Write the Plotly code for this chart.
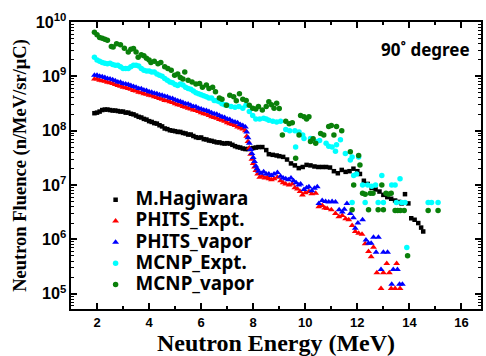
import plotly.graph_objects as go

# ---------------- data ----------------
hag_E = [1.9, 2.0, 2.1, 2.2, 2.3, 2.4, 2.5, 2.6, 2.7, 2.8, 2.9, 3.0, 3.1, 3.2, 3.3, 3.4, 3.5, 3.6, 3.7, 3.8,
         3.9, 4.0, 4.1, 4.2, 4.3, 4.4, 4.5, 4.6, 4.7, 4.8, 4.9, 5.0, 5.1, 5.2, 5.3, 5.4, 5.5, 5.6, 5.7, 5.8,
         5.9, 6.0, 6.1, 6.2, 6.3, 6.4, 6.5, 6.6, 6.7, 6.8, 6.9, 7.0, 7.1, 7.2, 7.3, 7.4, 7.5, 7.6, 7.7, 7.8,
         7.9, 8.0, 8.1, 8.2, 8.35, 8.5, 8.6, 8.75, 8.9, 9.0, 9.15, 9.3, 9.45, 9.6, 9.75, 9.9, 10.05, 10.2,
         10.35, 10.5, 10.65, 10.8, 10.95, 11.1, 11.25, 11.4, 11.55, 11.7, 11.85, 12.0, 12.1, 12.25, 12.4,
         12.55, 12.7, 12.85, 13.0, 13.15, 13.3, 13.45, 13.6, 13.7, 13.83, 13.96, 14.07, 14.2, 14.34, 14.45, 14.53]
hag_F = [2.1e8, 2.15e8, 2.25e8, 2.4e8, 2.45e8, 2.45e8, 2.4e8, 2.35e8, 2.35e8, 2.3e8, 2.25e8, 2.25e8, 2.15e8,
         2.15e8, 2.05e8, 2.0e8, 1.9e8, 1.8e8, 1.75e8, 1.65e8, 1.6e8, 1.5e8, 1.45e8, 1.38e8, 1.35e8, 1.26e8,
         1.2e8, 1.1e8, 1.07e8, 1.02e8, 1.0e8, 9.8e7, 9.5e7, 9.5e7, 9.1e7, 8.9e7, 8.5e7, 8.5e7, 8.0e7, 7.6e7,
         7.4e7, 7.5e7, 7.0e7, 6.9e7, 6.6e7, 6.5e7, 6.3e7, 6.1e7, 6.1e7, 5.9e7, 5.8e7, 5.9e7, 5.8e7, 5.5e7,
         5.2e7, 5.0e7, 4.9e7, 4.7e7, 4.6e7, 4.6e7, 4.7e7, 4.8e7, 4.9e7, 5.0e7, 5.0e7, 4.4e7, 3.7e7, 3.6e7,
         3.5e7, 3.4e7, 3.3e7, 2.95e7, 2.5e7, 2.3e7, 2.05e7, 2.15e7, 2.35e7, 2.3e7, 2.2e7, 2.15e7, 2.15e7,
         2.15e7, 2.1e7, 1.8e7, 1.65e7, 1.9e7, 1.75e7, 1.8e7, 2.0e7, 1.8e7, 1.6e7, 1.2e7, 1.05e7, 8.9e6,
         8.3e6, 7.6e6, 6.6e6, 6.0e6, 5.6e6, 5.2e6, 4.9e6, 4.6e6, 6.8e6, 4.6e6, 2.45e6, 2.3e6, 2.0e6, 1.65e6, 1.4e6]

pv_E = [1.9, 2.0, 2.1, 2.2, 2.3, 2.4, 2.5, 2.6, 2.7, 2.8, 2.9, 3.0, 3.1, 3.2, 3.3, 3.4, 3.5, 3.6, 3.7, 3.8,
        3.9, 4.0, 4.1, 4.2, 4.3, 4.4, 4.5, 4.6, 4.7, 4.8, 4.9, 5.0, 5.1, 5.2, 5.3, 5.4, 5.5, 5.6, 5.7, 5.8,
        5.9, 6.0, 6.1, 6.2, 6.3, 6.4, 6.5, 6.6, 6.7, 6.8, 6.9, 7.0, 7.1, 7.2, 7.3, 7.4, 7.5, 7.6, 7.7,
        7.75, 7.8, 7.85, 7.9, 7.95, 8.0, 8.05, 8.1, 8.15, 8.2, 8.3, 8.4, 8.5, 8.6, 8.7, 8.8, 8.93, 9.05,
        9.15, 9.25, 9.35, 9.45, 9.55, 9.65, 9.75, 9.82, 9.95, 10.05, 10.14, 10.25, 10.35, 10.46, 10.52,
        10.65, 10.78, 10.9, 11.03, 11.16, 11.3, 11.42, 11.5, 11.6, 11.73, 11.85, 11.92, 12.02, 12.2,
        12.33, 12.43, 12.53, 12.62, 12.72, 12.81, 12.91, 13.0, 13.16, 13.32, 13.38, 13.54, 13.62, 13.73]
pv_F = [1.05e9, 1.05e9, 1.0e9, 9.8e8, 9.5e8, 9.1e8, 8.9e8, 8.7e8, 8.3e8, 7.9e8, 7.8e8, 7.4e8, 7.2e8, 7.1e8,
        6.8e8, 6.5e8, 6.3e8, 6.0e8, 5.9e8, 5.6e8, 5.5e8, 5.2e8, 5.1e8, 4.9e8, 4.8e8, 4.6e8, 4.5e8, 4.3e8,
        4.2e8, 4.0e8, 3.9e8, 3.7e8, 3.55e8, 3.45e8, 3.3e8, 3.15e8, 3.1e8, 2.95e8, 2.8e8, 2.75e8, 2.6e8,
        2.5e8, 2.4e8, 2.35e8, 2.25e8, 2.15e8, 2.05e8, 2.0e8, 1.9e8, 1.8e8, 1.75e8, 1.65e8, 1.6e8, 1.5e8,
        1.45e8, 1.4e8, 1.3e8, 1.25e8, 1.17e8,
        9.5e7, 7.4e7, 5.9e7, 4.5e7, 3.8e7, 3.2e7, 2.7e7, 2.25e7, 2.0e7, 1.8e7, 1.65e7, 1.75e7, 1.6e7,
        1.6e7, 1.5e7, 1.6e7, 1.7e7, 1.45e7, 1.35e7, 1.3e7, 1.25e7, 1.35e7, 1.2e7, 1.1e7, 1.0e7, 1.05e7,
        8.3e6, 8.9e6, 9.3e6, 7.9e6, 8.7e6, 9.3e6, 4.6e6, 5.2e6, 5.0e6, 4.9e6, 5.0e6, 4.9e6, 3.5e6, 3.2e6,
        3.6e6, 4.6e6, 3.0e6, 2.5e6, 1.6e6, 2.0e6, 2.3e6, 9.8e5, 8.5e5, 8.5e5, 1.1e6, 5.8e5, 1.1e6, 2.8e5,
        5.8e5, 5.8e5, 1.5e5, 2.8e5, 2.8e5, 1.5e5, 1.5e5]

pe_E = [1.9, 2.0, 2.1, 2.2, 2.3, 2.4, 2.5, 2.6, 2.7, 2.8, 2.9, 3.0, 3.1, 3.2, 3.3, 3.4, 3.5, 3.6, 3.7, 3.8,
        3.9, 4.0, 4.1, 4.2, 4.3, 4.4, 4.5, 4.6, 4.7, 4.8, 4.9, 5.0, 5.1, 5.2, 5.3, 5.4, 5.5, 5.6, 5.7, 5.8,
        5.9, 6.0, 6.1, 6.2, 6.3, 6.4, 6.5, 6.6, 6.7, 6.8, 6.9, 7.0, 7.1, 7.2, 7.3, 7.4, 7.5, 7.6, 7.7,
        7.75, 7.8, 7.85, 7.9, 7.95, 8.0, 8.05, 8.1, 8.17, 8.25, 8.35, 8.45, 8.55, 8.61, 8.7, 8.8, 8.93,
        9.05, 9.15, 9.25, 9.38, 9.5, 9.6, 9.7, 9.8, 9.89, 10.0, 10.14, 10.25, 10.4, 10.52, 10.65, 10.75,
        10.84, 11.0, 11.16, 11.29, 11.42, 11.55, 11.67, 11.8, 11.92, 12.05, 12.18, 12.3, 12.43, 12.53,
        12.62, 12.75, 12.91, 13.0, 13.13, 13.23, 13.3, 13.45, 13.51, 13.64]
pe_F = [8.9e8, 8.9e8, 8.5e8, 8.3e8, 8.1e8, 7.8e8, 7.6e8, 7.4e8, 7.1e8, 6.8e8, 6.6e8, 6.3e8, 6.2e8, 6.0e8,
        5.8e8, 5.5e8, 5.4e8, 5.1e8, 5.0e8, 4.8e8, 4.7e8, 4.5e8, 4.4e8, 4.2e8, 4.1e8, 3.9e8, 3.8e8, 3.6e8,
        3.55e8, 3.4e8, 3.3e8, 3.15e8, 3.0e8, 2.95e8, 2.8e8, 2.7e8, 2.6e8, 2.5e8, 2.4e8, 2.35e8, 2.25e8,
        2.15e8, 2.05e8, 2.0e8, 1.9e8, 1.8e8, 1.75e8, 1.7e8, 1.6e8, 1.55e8, 1.5e8, 1.4e8, 1.35e8, 1.3e8,
        1.25e8, 1.17e8, 1.12e8, 1.07e8, 1.0e8,
        7.9e7, 6.3e7, 4.8e7, 3.7e7, 3.0e7, 2.5e7, 2.15e7, 1.85e7, 1.6e7, 1.4e7, 1.45e7, 1.35e7, 1.4e7,
        1.3e7, 1.25e7, 1.3e7, 1.4e7, 1.2e7, 1.1e7, 1.05e7, 1.0e7, 1.05e7, 8.9e6, 8.5e6, 7.6e6, 6.6e6,
        7.2e6, 7.6e6, 6.9e6, 7.1e6, 4.0e6, 4.2e6, 3.8e6, 3.7e6, 3.5e6, 3.0e6, 2.6e6, 2.75e6, 2.4e6,
        2.3e6, 1.8e6, 1.4e6, 1.3e6, 1.25e6, 8.3e5, 6.0e5, 4.8e5, 7.2e5, 2.45e5, 1.25e5, 2.45e5, 3.6e5,
        2.45e5, 1.25e5, 1.25e5, 3.6e5, 1.25e5]

me_E = [1.9, 2.0, 2.1, 2.2, 2.3, 2.4, 2.5, 2.6, 2.7, 2.8, 2.9, 3.0, 3.1, 3.2, 3.3, 3.4, 3.5, 3.6, 3.7, 3.8,
        3.9, 4.0, 4.1, 4.2, 4.3, 4.4, 4.5, 4.6, 4.7, 4.8, 4.9, 5.0, 5.1, 5.2, 5.3, 5.4, 5.5, 5.6, 5.7, 5.8,
        5.9, 6.0, 6.1, 6.2, 6.3, 6.4, 6.5, 6.6, 6.7, 6.8, 6.9, 7.0, 7.15, 7.3, 7.45, 7.6, 7.72, 7.85, 7.98,
        8.1, 8.25, 8.4, 8.5, 8.6, 8.75, 8.9, 9.05, 9.25, 9.4, 9.6, 9.63, 9.76, 9.9, 9.95, 10.2, 10.4, 10.55,
        10.8, 10.9, 11.03, 11.16, 11.2, 11.35, 11.54, 11.73, 11.8, 11.8, 11.86, 11.97, 12.05, 12.2, 12.3,
        12.4, 12.55, 12.7, 12.8, 12.94, 13.0, 13.32, 13.45, 13.5, 13.64, 13.7, 13.83, 13.9, 14.72, 14.85, 15.1]
me_F = [2.25e9, 2.0e9, 1.9e9, 1.8e9, 1.75e9, 1.7e9, 1.75e9, 1.65e9, 1.6e9, 1.6e9, 1.5e9, 1.4e9, 1.4e9,
        1.4e9, 1.5e9, 1.6e9, 1.6e9, 1.55e9, 1.4e9, 1.3e9, 1.25e9, 1.25e9, 1.2e9, 1.2e9, 1.1e9, 1.05e9,
        1.0e9, 9.1e8, 8.5e8, 7.9e8, 7.6e8, 7.1e8, 6.8e8, 7.2e8, 6.9e8, 6.3e8, 6.0e8, 5.8e8, 5.4e8, 5.0e8,
        4.8e8, 4.6e8, 4.4e8, 4.2e8, 4.0e8, 4.0e8, 3.6e8, 3.55e8, 3.4e8, 3.15e8, 3.0e8, 2.95e8, 2.8e8,
        2.7e8, 2.8e8, 2.6e8, 2.95e8, 2.25e8, 1.9e8, 1.65e8, 1.65e8, 1.7e8, 1.65e8, 1.55e8, 1.5e8, 1.45e8,
        1.5e8, 1.05e8, 1.0e8, 1.0e8, 5.0e7, 9.5e7, 8.3e7, 7.2e7, 7.2e7, 6.3e7, 6.6e7, 5.9e7, 5.2e7, 5.0e7,
        4.2e7, 5.5e7, 6.8e7, 3.8e7, 2.9e7, 3.3e7, 4.8e6, 1.5e7, 1.6e7, 3.3e7, 1.0e7, 4.8e6, 1.0e7, 9.5e6,
        1.0e7, 4.8e6, 1.5e7, 4.8e6, 1.0e7, 1.0e7, 4.8e6, 1.3e7, 4.8e6, 4.8e6, 7.1e5, 4.8e6, 4.8e6, 4.8e6]

mv_E = [1.9, 2.0, 2.1, 2.2, 2.3, 2.4, 2.55, 2.62, 2.75, 2.9, 3.05, 3.2, 3.3, 3.4, 3.5, 3.58, 3.7, 3.8, 3.9,
        4.0, 4.07, 4.2, 4.34, 4.45, 4.6, 4.72, 4.85, 4.98, 5.1, 5.2, 5.3, 5.37, 5.5, 5.65, 5.8, 5.94, 6.05,
        6.2, 6.3, 6.44, 6.55, 6.7, 6.8, 6.97, 7.1, 7.25, 7.35, 7.47, 7.6, 7.73, 7.85, 7.98, 8.1, 8.2, 8.35,
        8.5, 8.6, 8.7, 8.8, 8.9, 9.0, 9.12, 9.25, 9.38, 9.5, 9.63, 9.76, 9.82, 9.95, 10.05, 10.14, 10.2,
        10.3, 10.4, 10.59, 10.71, 10.9, 11.0, 11.1, 11.2, 11.4, 11.73, 11.8, 11.86, 12.05, 12.1, 12.2,
        12.3, 12.43, 12.5, 12.6, 12.8, 12.94, 13.0, 13.1, 13.2, 13.3, 13.45, 13.55, 13.65, 13.8, 13.93,
        14.72, 15.1]
mv_F = [6.5e9, 5.8e9, 5.2e9, 5.0e9, 4.8e9, 4.6e9, 3.55e9, 3.45e9, 4.0e9, 3.8e9, 3.3e9, 2.8e9, 3.15e9,
        3.25e9, 2.8e9, 2.25e9, 2.5e9, 2.4e9, 2.15e9, 2.0e9, 1.8e9, 1.9e9, 1.7e9, 1.8e9, 1.5e9, 1.4e9,
        1.3e9, 1.05e9, 1.1e9, 9.5e8, 8.9e8, 1.2e9, 8.5e8, 7.9e8, 7.2e8, 7.4e8, 6.3e8, 6.9e8, 6.0e8, 6.3e8,
        5.2e8, 4.0e8, 3.8e8, 2.95e8, 4.5e8, 4.2e8, 3.55e8, 4.8e8, 3.8e8, 3.6e8, 2.95e8, 2.6e8, 2.5e8,
        2.8e8, 2.4e8, 2.8e8, 3.4e8, 3.0e8, 2.6e8, 3.2e8, 2.55e8, 8.3e7, 1.5e8, 1.35e8, 1.4e8, 3.1e7,
        8.3e7, 1.9e8, 1.8e8, 1.65e8, 1.8e8, 6.3e7, 7.1e7, 5.9e7, 8.9e7, 8.3e7, 1.2e8, 1.25e8, 8.3e7,
        1.2e8, 1.0e8, 4.1e7, 3.5e6, 1.0e7, 3.5e7, 2.35e7, 7.1e6, 6.8e6, 3.5e6, 7.1e6, 7.1e6, 3.5e6,
        1.0e7, 3.5e6, 7.1e6, 6.8e6, 7.1e6, 3.4e6, 3.4e6, 3.4e6, 3.4e6, 5.0e5, 3.4e6, 3.4e6]

names = ["M.Hagiwara", "PHITS_Expt.", "PHITS_vapor", "MCNP_Expt.", "MCNP_vapor"]
x_ticks = [2, 4, 6, 8, 10, 12, 14, 16]

# ---------------- figure ----------------
series = [
    (hag_E, hag_F, "black", "square", 4.5),
    (pe_E, pe_F, "#ff0000", "triangle-up", 6),
    (pv_E, pv_F, "#0000ff", "triangle-up", 6),
    (me_E, me_F, "#00ffff", "circle", 5.5),
    (mv_E, mv_F, "#0a800a", "circle", 5.5),
]

fig = go.Figure()
for (xs, ys, col, sym, sz), nm in zip(series, names):
    fig.add_trace(go.Scatter(x=xs, y=ys, mode="markers",
                             name='<span style="font-size:18.8px">' + nm + "</span>",
                             marker=dict(color=col, symbol=sym, size=sz, line=dict(width=0))))

axis_common = dict(showline=True, linecolor="black", linewidth=2, mirror="ticks",
                   ticks="inside", tickcolor="black", tickwidth=1.5, showgrid=False, zeroline=False)

fig.update_xaxes(range=[1, 16.75], tickvals=x_ticks, ticklen=6,
                 tickfont=dict(family="Liberation Sans", size=13, color="black", weight="bold"),
                 minor=dict(ticks="inside", ticklen=3, dtick=1, tickcolor="black", tickwidth=1.5),
                 title=dict(text="Neutron Energy (MeV)", standoff=4,
                            font=dict(family="Liberation Serif", size=24, color="black", weight="bold")),
                 **axis_common)
fig.update_yaxes(type="log", range=[4.72, 10], dtick=1, exponentformat="power", ticklen=6,
                 tickfont=dict(family="Liberation Sans", size=13, color="black", weight="bold"),
                 minor=dict(ticks="inside", ticklen=3, tickcolor="black", tickwidth=1),
                 title=dict(text="Neutron Fluence (n/MeV/sr/μC)", standoff=4,
                            font=dict(family="Liberation Serif", size=18.5, color="black", weight="bold")),
                 **axis_common)

fig.add_annotation(text="90˚ degree", xref="paper", yref="paper", x=0.978, y=0.905,
                   xanchor="right", yanchor="middle", showarrow=False,
                   font=dict(family="Noto Sans", size=17, color="black", weight="bold"))

fig.update_layout(
    width=486, height=356,
    margin=dict(l=71, r=3, t=22, b=47),
    plot_bgcolor="white", paper_bgcolor="white",
    legend=dict(x=0.06, y=0.435, xanchor="left", yanchor="top", bgcolor="rgba(0,0,0,0)",
                font=dict(family="Noto Sans", size=14, color="black", weight="bold"),
                tracegroupgap=0, itemwidth=30),
)

fig.write_html("out.html")
